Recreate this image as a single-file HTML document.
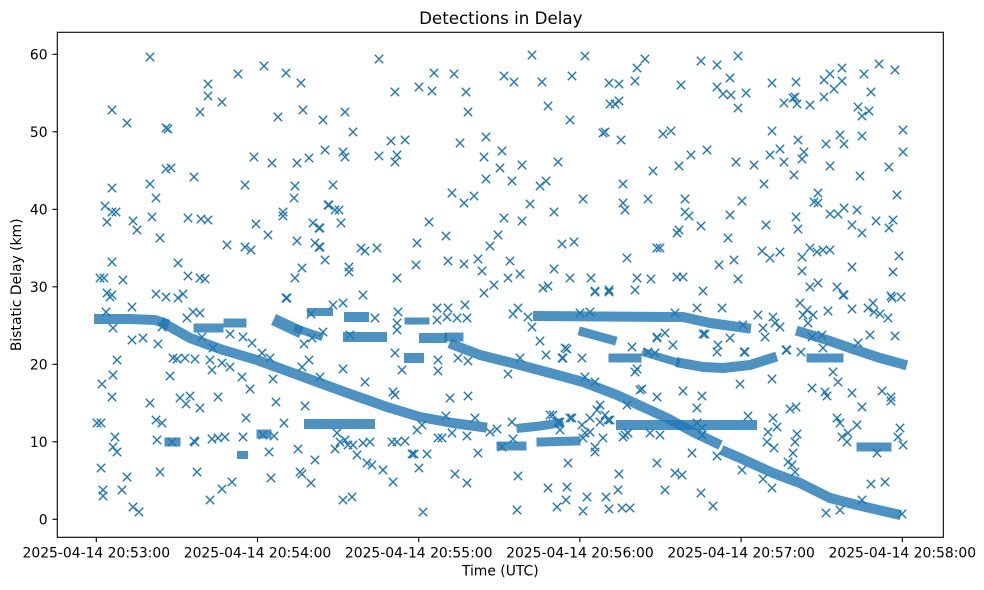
<!DOCTYPE html>
<html>
<head>
<meta charset="utf-8">
<style>
html,body{margin:0;padding:0;background:#fff;}
svg{display:block;}
text{font-family:"DejaVu Sans","Liberation Sans",sans-serif;fill:#000;}
</style>
</head>
<body>
<svg width="984" height="590" viewBox="0 0 984 590" xmlns="http://www.w3.org/2000/svg">
<rect x="0" y="0" width="984" height="590" fill="#fff"/>
<defs><clipPath id="ax"><rect x="57.3" y="32.3" width="886" height="505"/></clipPath></defs>

<g clip-path="url(#ax)">
<!-- dense tracks -->
<g fill="none" stroke="#1f77b4" stroke-opacity="0.8" stroke-linecap="square" stroke-linejoin="round">
<polyline stroke-width="10" points="99,319 130,319 155,320 164,323"/>
<polyline stroke-width="10" points="165,324 190,338 223,350 257,360 290,372 320,383 353,395 387,407 420,417 453,423 482,427"/>
<polyline stroke-width="10" points="309,424 370,424"/>
<polyline stroke-width="10" points="454,345 480,355 500,360 520,365 550,373 583,382 617,395 643,407 667,418 693,432 716,443"/>
<polyline stroke-width="10" points="726,452 740,458 773,473 800,483 820,493 830,498 857,505 896,514"/>
<polyline stroke-width="9" points="521,428 540,426 559,423"/>
<polyline stroke-width="10" points="621,425 752,425"/>
<polyline stroke-width="10" points="538,316 670,317 683,317 710,323 746,328"/>
<polyline stroke-width="9" points="583,332 612,340"/>
<polyline stroke-width="9" points="613,358 637,358"/>
<polyline stroke-width="8" points="646,353 676,362"/>
<polyline stroke-width="10" points="681,363 703,367 723,368 750,365 772,358"/>
<polyline stroke-width="10" points="801,332 827,340 850,348 880,358 902,364"/>
<polyline stroke-width="9" points="811,358 839,358"/>
<polyline stroke-width="9" points="861,447 887,447"/>
<polyline stroke-width="9" points="501,446 522,446"/>
<polyline stroke-width="9" points="541,442 576,441"/>
<polyline stroke-width="9" points="198,328 219,328"/>
<polyline stroke-width="9" points="228,323 242,323"/>
<polyline stroke-width="12" points="279,322 296,330"/>
<polyline stroke-width="8" points="298,329 319,336"/>
<polyline stroke-width="8" points="311,312 329,312"/>
<polyline stroke-width="10" points="349,317 364,317"/>
<polyline stroke-width="10" points="348,337 382,337"/>
<polyline stroke-width="7" points="408,321 426,321"/>
<polyline stroke-width="10" points="424,338 442,338"/>
<polyline stroke-width="9" points="449,337 459,337"/>
<polyline stroke-width="10" points="409,358 419,358"/>
<polyline stroke-width="9" points="169,442 176,442"/>
<polyline stroke-width="9" points="261,434 267,434"/>
<polyline stroke-width="8" points="241,455 244,455"/>
</g>

<path fill="none" stroke="#1f77b4" stroke-width="1.39" d="
M150 57m-4.2-4.2l8.4 8.4m0-8.4l-8.4 8.4M112 110m-4.2-4.2l8.4 8.4m0-8.4l-8.4 8.4M127 123m-4.2-4.2l8.4 8.4m0-8.4l-8.4 8.4M166 128m-4.2-4.2l8.4 8.4m0-8.4l-8.4 8.4M168 129m-4.2-4.2l8.4 8.4m0-8.4l-8.4 8.4M200 112m-4.2-4.2l8.4 8.4m0-8.4l-8.4 8.4M208 84m-4.2-4.2l8.4 8.4m0-8.4l-8.4 8.4M208 96m-4.2-4.2l8.4 8.4m0-8.4l-8.4 8.4M222 102m-4.2-4.2l8.4 8.4m0-8.4l-8.4 8.4M238 74m-4.2-4.2l8.4 8.4m0-8.4l-8.4 8.4M264 66m-4.2-4.2l8.4 8.4m0-8.4l-8.4 8.4M286 73m-4.2-4.2l8.4 8.4m0-8.4l-8.4 8.4M301 83m-4.2-4.2l8.4 8.4m0-8.4l-8.4 8.4M303 110m-4.2-4.2l8.4 8.4m0-8.4l-8.4 8.4M278 117m-4.2-4.2l8.4 8.4m0-8.4l-8.4 8.4M323 120m-4.2-4.2l8.4 8.4m0-8.4l-8.4 8.4M325 150m-4.2-4.2l8.4 8.4m0-8.4l-8.4 8.4M309 158m-4.2-4.2l8.4 8.4m0-8.4l-8.4 8.4M297 163m-4.2-4.2l8.4 8.4m0-8.4l-8.4 8.4M272 163m-4.2-4.2l8.4 8.4m0-8.4l-8.4 8.4M254 157m-4.2-4.2l8.4 8.4m0-8.4l-8.4 8.4M245 185m-4.2-4.2l8.4 8.4m0-8.4l-8.4 8.4M194 177m-4.2-4.2l8.4 8.4m0-8.4l-8.4 8.4M166 169m-4.2-4.2l8.4 8.4m0-8.4l-8.4 8.4M171 168m-4.2-4.2l8.4 8.4m0-8.4l-8.4 8.4M150 184m-4.2-4.2l8.4 8.4m0-8.4l-8.4 8.4M152 217m-4.2-4.2l8.4 8.4m0-8.4l-8.4 8.4M156 198m-4.2-4.2l8.4 8.4m0-8.4l-8.4 8.4M160 238m-4.2-4.2l8.4 8.4m0-8.4l-8.4 8.4M112 188m-4.2-4.2l8.4 8.4m0-8.4l-8.4 8.4M105 206m-4.2-4.2l8.4 8.4m0-8.4l-8.4 8.4M112 212m-4.2-4.2l8.4 8.4m0-8.4l-8.4 8.4M116 212m-4.2-4.2l8.4 8.4m0-8.4l-8.4 8.4M107 222m-4.2-4.2l8.4 8.4m0-8.4l-8.4 8.4M133 221m-4.2-4.2l8.4 8.4m0-8.4l-8.4 8.4M137 230m-4.2-4.2l8.4 8.4m0-8.4l-8.4 8.4M188 218m-4.2-4.2l8.4 8.4m0-8.4l-8.4 8.4M201 219m-4.2-4.2l8.4 8.4m0-8.4l-8.4 8.4M208 220m-4.2-4.2l8.4 8.4m0-8.4l-8.4 8.4M227 245m-4.2-4.2l8.4 8.4m0-8.4l-8.4 8.4M245 247m-4.2-4.2l8.4 8.4m0-8.4l-8.4 8.4M251 250m-4.2-4.2l8.4 8.4m0-8.4l-8.4 8.4M256 224m-4.2-4.2l8.4 8.4m0-8.4l-8.4 8.4M268 235m-4.2-4.2l8.4 8.4m0-8.4l-8.4 8.4M283 212m-4.2-4.2l8.4 8.4m0-8.4l-8.4 8.4M283 216m-4.2-4.2l8.4 8.4m0-8.4l-8.4 8.4M294 198m-4.2-4.2l8.4 8.4m0-8.4l-8.4 8.4M295 186m-4.2-4.2l8.4 8.4m0-8.4l-8.4 8.4M297 241m-4.2-4.2l8.4 8.4m0-8.4l-8.4 8.4M302 268m-4.2-4.2l8.4 8.4m0-8.4l-8.4 8.4M295 278m-4.2-4.2l8.4 8.4m0-8.4l-8.4 8.4M313 223m-4.2-4.2l8.4 8.4m0-8.4l-8.4 8.4M319 228m-4.2-4.2l8.4 8.4m0-8.4l-8.4 8.4M315 243m-4.2-4.2l8.4 8.4m0-8.4l-8.4 8.4M319 247m-4.2-4.2l8.4 8.4m0-8.4l-8.4 8.4M325 260m-4.2-4.2l8.4 8.4m0-8.4l-8.4 8.4M328 205m-4.2-4.2l8.4 8.4m0-8.4l-8.4 8.4M112 262m-4.2-4.2l8.4 8.4m0-8.4l-8.4 8.4M123 280m-4.2-4.2l8.4 8.4m0-8.4l-8.4 8.4M100 278m-4.2-4.2l8.4 8.4m0-8.4l-8.4 8.4M104 278m-4.2-4.2l8.4 8.4m0-8.4l-8.4 8.4M178 263m-4.2-4.2l8.4 8.4m0-8.4l-8.4 8.4M188 276m-4.2-4.2l8.4 8.4m0-8.4l-8.4 8.4M200 278m-4.2-4.2l8.4 8.4m0-8.4l-8.4 8.4M205 279m-4.2-4.2l8.4 8.4m0-8.4l-8.4 8.4M156 294m-4.2-4.2l8.4 8.4m0-8.4l-8.4 8.4M166 297m-4.2-4.2l8.4 8.4m0-8.4l-8.4 8.4M183 294m-4.2-4.2l8.4 8.4m0-8.4l-8.4 8.4M178 298m-4.2-4.2l8.4 8.4m0-8.4l-8.4 8.4M107 293m-4.2-4.2l8.4 8.4m0-8.4l-8.4 8.4M112 295m-4.2-4.2l8.4 8.4m0-8.4l-8.4 8.4M286 298m-4.2-4.2l8.4 8.4m0-8.4l-8.4 8.4
M106 312m-4.2-4.2l8.4 8.4m0-8.4l-8.4 8.4M132 307m-4.2-4.2l8.4 8.4m0-8.4l-8.4 8.4M113 328m-4.2-4.2l8.4 8.4m0-8.4l-8.4 8.4M132 340m-4.2-4.2l8.4 8.4m0-8.4l-8.4 8.4M143 338m-4.2-4.2l8.4 8.4m0-8.4l-8.4 8.4M158 344m-4.2-4.2l8.4 8.4m0-8.4l-8.4 8.4M162 327m-4.2-4.2l8.4 8.4m0-8.4l-8.4 8.4M187 318m-4.2-4.2l8.4 8.4m0-8.4l-8.4 8.4M193 312m-4.2-4.2l8.4 8.4m0-8.4l-8.4 8.4M200 313m-4.2-4.2l8.4 8.4m0-8.4l-8.4 8.4M202 337m-4.2-4.2l8.4 8.4m0-8.4l-8.4 8.4M213 348m-4.2-4.2l8.4 8.4m0-8.4l-8.4 8.4M222 363m-4.2-4.2l8.4 8.4m0-8.4l-8.4 8.4M230 367m-4.2-4.2l8.4 8.4m0-8.4l-8.4 8.4M242 377m-4.2-4.2l8.4 8.4m0-8.4l-8.4 8.4M250 389m-4.2-4.2l8.4 8.4m0-8.4l-8.4 8.4M246 418m-4.2-4.2l8.4 8.4m0-8.4l-8.4 8.4M243 437m-4.2-4.2l8.4 8.4m0-8.4l-8.4 8.4M218 397m-4.2-4.2l8.4 8.4m0-8.4l-8.4 8.4M212 370m-4.2-4.2l8.4 8.4m0-8.4l-8.4 8.4M210 360m-4.2-4.2l8.4 8.4m0-8.4l-8.4 8.4M170 376m-4.2-4.2l8.4 8.4m0-8.4l-8.4 8.4M180 398m-4.2-4.2l8.4 8.4m0-8.4l-8.4 8.4M186 404m-4.2-4.2l8.4 8.4m0-8.4l-8.4 8.4M190 396m-4.2-4.2l8.4 8.4m0-8.4l-8.4 8.4M200 408m-4.2-4.2l8.4 8.4m0-8.4l-8.4 8.4M195 442m-4.2-4.2l8.4 8.4m0-8.4l-8.4 8.4M197 472m-4.2-4.2l8.4 8.4m0-8.4l-8.4 8.4M210 500m-4.2-4.2l8.4 8.4m0-8.4l-8.4 8.4M222 489m-4.2-4.2l8.4 8.4m0-8.4l-8.4 8.4M232 482m-4.2-4.2l8.4 8.4m0-8.4l-8.4 8.4M212 439m-4.2-4.2l8.4 8.4m0-8.4l-8.4 8.4M218 438m-4.2-4.2l8.4 8.4m0-8.4l-8.4 8.4M225 437m-4.2-4.2l8.4 8.4m0-8.4l-8.4 8.4M160 472m-4.2-4.2l8.4 8.4m0-8.4l-8.4 8.4M156 420m-4.2-4.2l8.4 8.4m0-8.4l-8.4 8.4M162 423m-4.2-4.2l8.4 8.4m0-8.4l-8.4 8.4M157 440m-4.2-4.2l8.4 8.4m0-8.4l-8.4 8.4M150 403m-4.2-4.2l8.4 8.4m0-8.4l-8.4 8.4M117 360m-4.2-4.2l8.4 8.4m0-8.4l-8.4 8.4M113 375m-4.2-4.2l8.4 8.4m0-8.4l-8.4 8.4M102 384m-4.2-4.2l8.4 8.4m0-8.4l-8.4 8.4M112 397m-4.2-4.2l8.4 8.4m0-8.4l-8.4 8.4M115 437m-4.2-4.2l8.4 8.4m0-8.4l-8.4 8.4M113 447m-4.2-4.2l8.4 8.4m0-8.4l-8.4 8.4M117 452m-4.2-4.2l8.4 8.4m0-8.4l-8.4 8.4M101 468m-4.2-4.2l8.4 8.4m0-8.4l-8.4 8.4M103 490m-4.2-4.2l8.4 8.4m0-8.4l-8.4 8.4M103 496m-4.2-4.2l8.4 8.4m0-8.4l-8.4 8.4M122 490m-4.2-4.2l8.4 8.4m0-8.4l-8.4 8.4M127 477m-4.2-4.2l8.4 8.4m0-8.4l-8.4 8.4M133 507m-4.2-4.2l8.4 8.4m0-8.4l-8.4 8.4M139 512m-4.2-4.2l8.4 8.4m0-8.4l-8.4 8.4M97 423m-4.2-4.2l8.4 8.4m0-8.4l-8.4 8.4M101 423m-4.2-4.2l8.4 8.4m0-8.4l-8.4 8.4M273 379m-4.2-4.2l8.4 8.4m0-8.4l-8.4 8.4M276 402m-4.2-4.2l8.4 8.4m0-8.4l-8.4 8.4M284 423m-4.2-4.2l8.4 8.4m0-8.4l-8.4 8.4M269 452m-4.2-4.2l8.4 8.4m0-8.4l-8.4 8.4M271 478m-4.2-4.2l8.4 8.4m0-8.4l-8.4 8.4M298 449m-4.2-4.2l8.4 8.4m0-8.4l-8.4 8.4M300 472m-4.2-4.2l8.4 8.4m0-8.4l-8.4 8.4M302 474m-4.2-4.2l8.4 8.4m0-8.4l-8.4 8.4M311 483m-4.2-4.2l8.4 8.4m0-8.4l-8.4 8.4M315 460m-4.2-4.2l8.4 8.4m0-8.4l-8.4 8.4M305 406m-4.2-4.2l8.4 8.4m0-8.4l-8.4 8.4M302 367m-4.2-4.2l8.4 8.4m0-8.4l-8.4 8.4M309 360m-4.2-4.2l8.4 8.4m0-8.4l-8.4 8.4M304 344m-4.2-4.2l8.4 8.4m0-8.4l-8.4 8.4M312 338m-4.2-4.2l8.4 8.4m0-8.4l-8.4 8.4M323 332m-4.2-4.2l8.4 8.4m0-8.4l-8.4 8.4M311 314m-4.2-4.2l8.4 8.4m0-8.4l-8.4 8.4M230 334m-4.2-4.2l8.4 8.4m0-8.4l-8.4 8.4M243 337m-4.2-4.2l8.4 8.4m0-8.4l-8.4 8.4M252 343m-4.2-4.2l8.4 8.4m0-8.4l-8.4 8.4M262 353m-4.2-4.2l8.4 8.4m0-8.4l-8.4 8.4M270 358m-4.2-4.2l8.4 8.4m0-8.4l-8.4 8.4M263 435m-4.2-4.2l8.4 8.4m0-8.4l-8.4 8.4M274 436m-4.2-4.2l8.4 8.4m0-8.4l-8.4 8.4M194 441m-4.2-4.2l8.4 8.4m0-8.4l-8.4 8.4M172 442m-4.2-4.2l8.4 8.4m0-8.4l-8.4 8.4M320 377m-4.2-4.2l8.4 8.4m0-8.4l-8.4 8.4M185 358m-4.2-4.2l8.4 8.4m0-8.4l-8.4 8.4M173 358m-4.2-4.2l8.4 8.4m0-8.4l-8.4 8.4M177 359m-4.2-4.2l8.4 8.4m0-8.4l-8.4 8.4M195 359m-4.2-4.2l8.4 8.4m0-8.4l-8.4 8.4M110 297m-4.2-4.2l8.4 8.4m0-8.4l-8.4 8.4M287 298m-4.2-4.2l8.4 8.4m0-8.4l-8.4 8.4
M363 295m-4.2-4.2l8.4 8.4m0-8.4l-8.4 8.4M484 293m-4.2-4.2l8.4 8.4m0-8.4l-8.4 8.4M333 305m-4.2-4.2l8.4 8.4m0-8.4l-8.4 8.4M343 303m-4.2-4.2l8.4 8.4m0-8.4l-8.4 8.4M323 332m-4.2-4.2l8.4 8.4m0-8.4l-8.4 8.4M350 335m-4.2-4.2l8.4 8.4m0-8.4l-8.4 8.4M375 318m-4.2-4.2l8.4 8.4m0-8.4l-8.4 8.4M398 312m-4.2-4.2l8.4 8.4m0-8.4l-8.4 8.4M397 323m-4.2-4.2l8.4 8.4m0-8.4l-8.4 8.4M397 330m-4.2-4.2l8.4 8.4m0-8.4l-8.4 8.4M437 308m-4.2-4.2l8.4 8.4m0-8.4l-8.4 8.4M448 308m-4.2-4.2l8.4 8.4m0-8.4l-8.4 8.4M465 305m-4.2-4.2l8.4 8.4m0-8.4l-8.4 8.4M437 320m-4.2-4.2l8.4 8.4m0-8.4l-8.4 8.4M447 317m-4.2-4.2l8.4 8.4m0-8.4l-8.4 8.4M457 318m-4.2-4.2l8.4 8.4m0-8.4l-8.4 8.4M467 318m-4.2-4.2l8.4 8.4m0-8.4l-8.4 8.4M395 353m-4.2-4.2l8.4 8.4m0-8.4l-8.4 8.4M402 370m-4.2-4.2l8.4 8.4m0-8.4l-8.4 8.4M438 360m-4.2-4.2l8.4 8.4m0-8.4l-8.4 8.4M438 371m-4.2-4.2l8.4 8.4m0-8.4l-8.4 8.4M458 358m-4.2-4.2l8.4 8.4m0-8.4l-8.4 8.4M468 361m-4.2-4.2l8.4 8.4m0-8.4l-8.4 8.4M343 369m-4.2-4.2l8.4 8.4m0-8.4l-8.4 8.4M365 382m-4.2-4.2l8.4 8.4m0-8.4l-8.4 8.4M393 392m-4.2-4.2l8.4 8.4m0-8.4l-8.4 8.4M395 395m-4.2-4.2l8.4 8.4m0-8.4l-8.4 8.4M450 398m-4.2-4.2l8.4 8.4m0-8.4l-8.4 8.4M468 396m-4.2-4.2l8.4 8.4m0-8.4l-8.4 8.4M446 416m-4.2-4.2l8.4 8.4m0-8.4l-8.4 8.4M475 418m-4.2-4.2l8.4 8.4m0-8.4l-8.4 8.4M417 430m-4.2-4.2l8.4 8.4m0-8.4l-8.4 8.4M422 425m-4.2-4.2l8.4 8.4m0-8.4l-8.4 8.4M452 433m-4.2-4.2l8.4 8.4m0-8.4l-8.4 8.4M467 436m-4.2-4.2l8.4 8.4m0-8.4l-8.4 8.4M438 438m-4.2-4.2l8.4 8.4m0-8.4l-8.4 8.4M442 438m-4.2-4.2l8.4 8.4m0-8.4l-8.4 8.4M392 442m-4.2-4.2l8.4 8.4m0-8.4l-8.4 8.4M397 442m-4.2-4.2l8.4 8.4m0-8.4l-8.4 8.4M405 441m-4.2-4.2l8.4 8.4m0-8.4l-8.4 8.4M412 454m-4.2-4.2l8.4 8.4m0-8.4l-8.4 8.4M414 454m-4.2-4.2l8.4 8.4m0-8.4l-8.4 8.4M427 454m-4.2-4.2l8.4 8.4m0-8.4l-8.4 8.4M419 468m-4.2-4.2l8.4 8.4m0-8.4l-8.4 8.4M478 453m-4.2-4.2l8.4 8.4m0-8.4l-8.4 8.4M337 433m-4.2-4.2l8.4 8.4m0-8.4l-8.4 8.4M340 442m-4.2-4.2l8.4 8.4m0-8.4l-8.4 8.4M345 440m-4.2-4.2l8.4 8.4m0-8.4l-8.4 8.4M348 445m-4.2-4.2l8.4 8.4m0-8.4l-8.4 8.4M353 445m-4.2-4.2l8.4 8.4m0-8.4l-8.4 8.4M363 443m-4.2-4.2l8.4 8.4m0-8.4l-8.4 8.4M370 442m-4.2-4.2l8.4 8.4m0-8.4l-8.4 8.4M335 449m-4.2-4.2l8.4 8.4m0-8.4l-8.4 8.4M357 455m-4.2-4.2l8.4 8.4m0-8.4l-8.4 8.4M367 463m-4.2-4.2l8.4 8.4m0-8.4l-8.4 8.4M372 465m-4.2-4.2l8.4 8.4m0-8.4l-8.4 8.4M383 470m-4.2-4.2l8.4 8.4m0-8.4l-8.4 8.4M393 482m-4.2-4.2l8.4 8.4m0-8.4l-8.4 8.4M343 500m-4.2-4.2l8.4 8.4m0-8.4l-8.4 8.4M352 497m-4.2-4.2l8.4 8.4m0-8.4l-8.4 8.4M423 512m-4.2-4.2l8.4 8.4m0-8.4l-8.4 8.4M455 474m-4.2-4.2l8.4 8.4m0-8.4l-8.4 8.4M467 483m-4.2-4.2l8.4 8.4m0-8.4l-8.4 8.4M490 432m-4.2-4.2l8.4 8.4m0-8.4l-8.4 8.4M497 429m-4.2-4.2l8.4 8.4m0-8.4l-8.4 8.4M512 422m-4.2-4.2l8.4 8.4m0-8.4l-8.4 8.4M513 439m-4.2-4.2l8.4 8.4m0-8.4l-8.4 8.4M502 447m-4.2-4.2l8.4 8.4m0-8.4l-8.4 8.4M518 476m-4.2-4.2l8.4 8.4m0-8.4l-8.4 8.4M517 510m-4.2-4.2l8.4 8.4m0-8.4l-8.4 8.4M548 488m-4.2-4.2l8.4 8.4m0-8.4l-8.4 8.4M557 507m-4.2-4.2l8.4 8.4m0-8.4l-8.4 8.4M567 487m-4.2-4.2l8.4 8.4m0-8.4l-8.4 8.4M566 500m-4.2-4.2l8.4 8.4m0-8.4l-8.4 8.4M568 463m-4.2-4.2l8.4 8.4m0-8.4l-8.4 8.4M583 511m-4.2-4.2l8.4 8.4m0-8.4l-8.4 8.4M587 497m-4.2-4.2l8.4 8.4m0-8.4l-8.4 8.4M606 497m-4.2-4.2l8.4 8.4m0-8.4l-8.4 8.4M609 509m-4.2-4.2l8.4 8.4m0-8.4l-8.4 8.4M618 490m-4.2-4.2l8.4 8.4m0-8.4l-8.4 8.4M619 474m-4.2-4.2l8.4 8.4m0-8.4l-8.4 8.4M622 508m-4.2-4.2l8.4 8.4m0-8.4l-8.4 8.4M630 508m-4.2-4.2l8.4 8.4m0-8.4l-8.4 8.4M657 463m-4.2-4.2l8.4 8.4m0-8.4l-8.4 8.4M513 314m-4.2-4.2l8.4 8.4m0-8.4l-8.4 8.4M518 308m-4.2-4.2l8.4 8.4m0-8.4l-8.4 8.4M528 317m-4.2-4.2l8.4 8.4m0-8.4l-8.4 8.4M532 327m-4.2-4.2l8.4 8.4m0-8.4l-8.4 8.4M540 341m-4.2-4.2l8.4 8.4m0-8.4l-8.4 8.4M546 355m-4.2-4.2l8.4 8.4m0-8.4l-8.4 8.4M563 358m-4.2-4.2l8.4 8.4m0-8.4l-8.4 8.4M567 349m-4.2-4.2l8.4 8.4m0-8.4l-8.4 8.4M582 358m-4.2-4.2l8.4 8.4m0-8.4l-8.4 8.4M508 374m-4.2-4.2l8.4 8.4m0-8.4l-8.4 8.4M520 358m-4.2-4.2l8.4 8.4m0-8.4l-8.4 8.4M550 415m-4.2-4.2l8.4 8.4m0-8.4l-8.4 8.4M558 422m-4.2-4.2l8.4 8.4m0-8.4l-8.4 8.4M560 430m-4.2-4.2l8.4 8.4m0-8.4l-8.4 8.4M572 418m-4.2-4.2l8.4 8.4m0-8.4l-8.4 8.4M585 377m-4.2-4.2l8.4 8.4m0-8.4l-8.4 8.4M595 382m-4.2-4.2l8.4 8.4m0-8.4l-8.4 8.4M600 405m-4.2-4.2l8.4 8.4m0-8.4l-8.4 8.4M603 438m-4.2-4.2l8.4 8.4m0-8.4l-8.4 8.4M595 447m-4.2-4.2l8.4 8.4m0-8.4l-8.4 8.4M595 452m-4.2-4.2l8.4 8.4m0-8.4l-8.4 8.4M585 433m-4.2-4.2l8.4 8.4m0-8.4l-8.4 8.4M610 420m-4.2-4.2l8.4 8.4m0-8.4l-8.4 8.4M623 437m-4.2-4.2l8.4 8.4m0-8.4l-8.4 8.4M628 433m-4.2-4.2l8.4 8.4m0-8.4l-8.4 8.4M650 433m-4.2-4.2l8.4 8.4m0-8.4l-8.4 8.4M632 347m-4.2-4.2l8.4 8.4m0-8.4l-8.4 8.4M635 372m-4.2-4.2l8.4 8.4m0-8.4l-8.4 8.4M637 369m-4.2-4.2l8.4 8.4m0-8.4l-8.4 8.4M642 389m-4.2-4.2l8.4 8.4m0-8.4l-8.4 8.4M627 405m-4.2-4.2l8.4 8.4m0-8.4l-8.4 8.4M648 352m-4.2-4.2l8.4 8.4m0-8.4l-8.4 8.4M655 353m-4.2-4.2l8.4 8.4m0-8.4l-8.4 8.4M657 338m-4.2-4.2l8.4 8.4m0-8.4l-8.4 8.4M657 397m-4.2-4.2l8.4 8.4m0-8.4l-8.4 8.4M635 290m-4.2-4.2l8.4 8.4m0-8.4l-8.4 8.4M595 292m-4.2-4.2l8.4 8.4m0-8.4l-8.4 8.4M609 292m-4.2-4.2l8.4 8.4m0-8.4l-8.4 8.4
M565 348m-4.2-4.2l8.4 8.4m0-8.4l-8.4 8.4M562 358m-4.2-4.2l8.4 8.4m0-8.4l-8.4 8.4M665 333m-4.2-4.2l8.4 8.4m0-8.4l-8.4 8.4M640 390m-4.2-4.2l8.4 8.4m0-8.4l-8.4 8.4M583 438m-4.2-4.2l8.4 8.4m0-8.4l-8.4 8.4M590 432m-4.2-4.2l8.4 8.4m0-8.4l-8.4 8.4M582 425m-4.2-4.2l8.4 8.4m0-8.4l-8.4 8.4M560 422m-4.2-4.2l8.4 8.4m0-8.4l-8.4 8.4M553 415m-4.2-4.2l8.4 8.4m0-8.4l-8.4 8.4M570 418m-4.2-4.2l8.4 8.4m0-8.4l-8.4 8.4M608 420m-4.2-4.2l8.4 8.4m0-8.4l-8.4 8.4M625 435m-4.2-4.2l8.4 8.4m0-8.4l-8.4 8.4M660 435m-4.2-4.2l8.4 8.4m0-8.4l-8.4 8.4M597 410m-4.2-4.2l8.4 8.4m0-8.4l-8.4 8.4M605 415m-4.2-4.2l8.4 8.4m0-8.4l-8.4 8.4M590 418m-4.2-4.2l8.4 8.4m0-8.4l-8.4 8.4M600 422m-4.2-4.2l8.4 8.4m0-8.4l-8.4 8.4M590 312m-4.2-4.2l8.4 8.4m0-8.4l-8.4 8.4M580 313m-4.2-4.2l8.4 8.4m0-8.4l-8.4 8.4
M379 59m-4.2-4.2l8.4 8.4m0-8.4l-8.4 8.4M532 55m-4.2-4.2l8.4 8.4m0-8.4l-8.4 8.4M585 56m-4.2-4.2l8.4 8.4m0-8.4l-8.4 8.4M645 59m-4.2-4.2l8.4 8.4m0-8.4l-8.4 8.4M637 68m-4.2-4.2l8.4 8.4m0-8.4l-8.4 8.4M635 81m-4.2-4.2l8.4 8.4m0-8.4l-8.4 8.4M609 83m-4.2-4.2l8.4 8.4m0-8.4l-8.4 8.4M619 84m-4.2-4.2l8.4 8.4m0-8.4l-8.4 8.4M610 104m-4.2-4.2l8.4 8.4m0-8.4l-8.4 8.4M615 104m-4.2-4.2l8.4 8.4m0-8.4l-8.4 8.4M619 101m-4.2-4.2l8.4 8.4m0-8.4l-8.4 8.4M572 76m-4.2-4.2l8.4 8.4m0-8.4l-8.4 8.4M542 82m-4.2-4.2l8.4 8.4m0-8.4l-8.4 8.4M504 76m-4.2-4.2l8.4 8.4m0-8.4l-8.4 8.4M514 82m-4.2-4.2l8.4 8.4m0-8.4l-8.4 8.4M548 106m-4.2-4.2l8.4 8.4m0-8.4l-8.4 8.4M570 120m-4.2-4.2l8.4 8.4m0-8.4l-8.4 8.4M603 133m-4.2-4.2l8.4 8.4m0-8.4l-8.4 8.4M605 132m-4.2-4.2l8.4 8.4m0-8.4l-8.4 8.4M621 140m-4.2-4.2l8.4 8.4m0-8.4l-8.4 8.4M653 171m-4.2-4.2l8.4 8.4m0-8.4l-8.4 8.4M623 184m-4.2-4.2l8.4 8.4m0-8.4l-8.4 8.4M623 203m-4.2-4.2l8.4 8.4m0-8.4l-8.4 8.4M625 210m-4.2-4.2l8.4 8.4m0-8.4l-8.4 8.4M648 199m-4.2-4.2l8.4 8.4m0-8.4l-8.4 8.4M657 248m-4.2-4.2l8.4 8.4m0-8.4l-8.4 8.4M627 258m-4.2-4.2l8.4 8.4m0-8.4l-8.4 8.4M637 278m-4.2-4.2l8.4 8.4m0-8.4l-8.4 8.4M651 279m-4.2-4.2l8.4 8.4m0-8.4l-8.4 8.4M609 290m-4.2-4.2l8.4 8.4m0-8.4l-8.4 8.4M595 291m-4.2-4.2l8.4 8.4m0-8.4l-8.4 8.4M591 278m-4.2-4.2l8.4 8.4m0-8.4l-8.4 8.4M570 278m-4.2-4.2l8.4 8.4m0-8.4l-8.4 8.4M554 269m-4.2-4.2l8.4 8.4m0-8.4l-8.4 8.4M548 286m-4.2-4.2l8.4 8.4m0-8.4l-8.4 8.4M543 288m-4.2-4.2l8.4 8.4m0-8.4l-8.4 8.4M562 244m-4.2-4.2l8.4 8.4m0-8.4l-8.4 8.4M574 242m-4.2-4.2l8.4 8.4m0-8.4l-8.4 8.4M554 212m-4.2-4.2l8.4 8.4m0-8.4l-8.4 8.4M583 199m-4.2-4.2l8.4 8.4m0-8.4l-8.4 8.4M558 162m-4.2-4.2l8.4 8.4m0-8.4l-8.4 8.4M546 181m-4.2-4.2l8.4 8.4m0-8.4l-8.4 8.4M540 186m-4.2-4.2l8.4 8.4m0-8.4l-8.4 8.4M530 204m-4.2-4.2l8.4 8.4m0-8.4l-8.4 8.4M522 221m-4.2-4.2l8.4 8.4m0-8.4l-8.4 8.4M504 218m-4.2-4.2l8.4 8.4m0-8.4l-8.4 8.4M498 235m-4.2-4.2l8.4 8.4m0-8.4l-8.4 8.4M490 246m-4.2-4.2l8.4 8.4m0-8.4l-8.4 8.4M510 261m-4.2-4.2l8.4 8.4m0-8.4l-8.4 8.4M520 274m-4.2-4.2l8.4 8.4m0-8.4l-8.4 8.4M508 278m-4.2-4.2l8.4 8.4m0-8.4l-8.4 8.4M494 285m-4.2-4.2l8.4 8.4m0-8.4l-8.4 8.4M482 271m-4.2-4.2l8.4 8.4m0-8.4l-8.4 8.4M478 259m-4.2-4.2l8.4 8.4m0-8.4l-8.4 8.4M464 264m-4.2-4.2l8.4 8.4m0-8.4l-8.4 8.4M448 261m-4.2-4.2l8.4 8.4m0-8.4l-8.4 8.4M446 236m-4.2-4.2l8.4 8.4m0-8.4l-8.4 8.4M429 222m-4.2-4.2l8.4 8.4m0-8.4l-8.4 8.4M417 243m-4.2-4.2l8.4 8.4m0-8.4l-8.4 8.4M416 265m-4.2-4.2l8.4 8.4m0-8.4l-8.4 8.4M397 278m-4.2-4.2l8.4 8.4m0-8.4l-8.4 8.4M377 248m-4.2-4.2l8.4 8.4m0-8.4l-8.4 8.4M365 251m-4.2-4.2l8.4 8.4m0-8.4l-8.4 8.4M361 248m-4.2-4.2l8.4 8.4m0-8.4l-8.4 8.4M349 267m-4.2-4.2l8.4 8.4m0-8.4l-8.4 8.4M349 272m-4.2-4.2l8.4 8.4m0-8.4l-8.4 8.4M320 247m-4.2-4.2l8.4 8.4m0-8.4l-8.4 8.4M341 223m-4.2-4.2l8.4 8.4m0-8.4l-8.4 8.4M335 210m-4.2-4.2l8.4 8.4m0-8.4l-8.4 8.4M339 210m-4.2-4.2l8.4 8.4m0-8.4l-8.4 8.4M329 205m-4.2-4.2l8.4 8.4m0-8.4l-8.4 8.4M333 185m-4.2-4.2l8.4 8.4m0-8.4l-8.4 8.4M320 228m-4.2-4.2l8.4 8.4m0-8.4l-8.4 8.4M343 152m-4.2-4.2l8.4 8.4m0-8.4l-8.4 8.4M345 157m-4.2-4.2l8.4 8.4m0-8.4l-8.4 8.4M379 156m-4.2-4.2l8.4 8.4m0-8.4l-8.4 8.4M397 155m-4.2-4.2l8.4 8.4m0-8.4l-8.4 8.4M395 162m-4.2-4.2l8.4 8.4m0-8.4l-8.4 8.4M391 141m-4.2-4.2l8.4 8.4m0-8.4l-8.4 8.4M405 140m-4.2-4.2l8.4 8.4m0-8.4l-8.4 8.4M353 132m-4.2-4.2l8.4 8.4m0-8.4l-8.4 8.4M345 112m-4.2-4.2l8.4 8.4m0-8.4l-8.4 8.4M395 92m-4.2-4.2l8.4 8.4m0-8.4l-8.4 8.4M419 87m-4.2-4.2l8.4 8.4m0-8.4l-8.4 8.4M432 91m-4.2-4.2l8.4 8.4m0-8.4l-8.4 8.4M434 73m-4.2-4.2l8.4 8.4m0-8.4l-8.4 8.4M454 74m-4.2-4.2l8.4 8.4m0-8.4l-8.4 8.4M466 92m-4.2-4.2l8.4 8.4m0-8.4l-8.4 8.4M468 112m-4.2-4.2l8.4 8.4m0-8.4l-8.4 8.4M460 143m-4.2-4.2l8.4 8.4m0-8.4l-8.4 8.4M486 137m-4.2-4.2l8.4 8.4m0-8.4l-8.4 8.4M484 157m-4.2-4.2l8.4 8.4m0-8.4l-8.4 8.4M502 151m-4.2-4.2l8.4 8.4m0-8.4l-8.4 8.4M500 168m-4.2-4.2l8.4 8.4m0-8.4l-8.4 8.4M522 165m-4.2-4.2l8.4 8.4m0-8.4l-8.4 8.4M512 181m-4.2-4.2l8.4 8.4m0-8.4l-8.4 8.4M486 179m-4.2-4.2l8.4 8.4m0-8.4l-8.4 8.4M452 193m-4.2-4.2l8.4 8.4m0-8.4l-8.4 8.4M464 203m-4.2-4.2l8.4 8.4m0-8.4l-8.4 8.4M474 196m-4.2-4.2l8.4 8.4m0-8.4l-8.4 8.4
M701 61m-4.2-4.2l8.4 8.4m0-8.4l-8.4 8.4M717 65m-4.2-4.2l8.4 8.4m0-8.4l-8.4 8.4M738 56m-4.2-4.2l8.4 8.4m0-8.4l-8.4 8.4M681 85m-4.2-4.2l8.4 8.4m0-8.4l-8.4 8.4M717 87m-4.2-4.2l8.4 8.4m0-8.4l-8.4 8.4M723 94m-4.2-4.2l8.4 8.4m0-8.4l-8.4 8.4M731 95m-4.2-4.2l8.4 8.4m0-8.4l-8.4 8.4M730 78m-4.2-4.2l8.4 8.4m0-8.4l-8.4 8.4M746 93m-4.2-4.2l8.4 8.4m0-8.4l-8.4 8.4M738 108m-4.2-4.2l8.4 8.4m0-8.4l-8.4 8.4M772 83m-4.2-4.2l8.4 8.4m0-8.4l-8.4 8.4M796 82m-4.2-4.2l8.4 8.4m0-8.4l-8.4 8.4M784 103m-4.2-4.2l8.4 8.4m0-8.4l-8.4 8.4M793 98m-4.2-4.2l8.4 8.4m0-8.4l-8.4 8.4M795 97m-4.2-4.2l8.4 8.4m0-8.4l-8.4 8.4M797 104m-4.2-4.2l8.4 8.4m0-8.4l-8.4 8.4M810 105m-4.2-4.2l8.4 8.4m0-8.4l-8.4 8.4M824 80m-4.2-4.2l8.4 8.4m0-8.4l-8.4 8.4M830 74m-4.2-4.2l8.4 8.4m0-8.4l-8.4 8.4M842 68m-4.2-4.2l8.4 8.4m0-8.4l-8.4 8.4M842 81m-4.2-4.2l8.4 8.4m0-8.4l-8.4 8.4M834 89m-4.2-4.2l8.4 8.4m0-8.4l-8.4 8.4M824 97m-4.2-4.2l8.4 8.4m0-8.4l-8.4 8.4M864 74m-4.2-4.2l8.4 8.4m0-8.4l-8.4 8.4M879 64m-4.2-4.2l8.4 8.4m0-8.4l-8.4 8.4M895 70m-4.2-4.2l8.4 8.4m0-8.4l-8.4 8.4M871 92m-4.2-4.2l8.4 8.4m0-8.4l-8.4 8.4M858 107m-4.2-4.2l8.4 8.4m0-8.4l-8.4 8.4M862 116m-4.2-4.2l8.4 8.4m0-8.4l-8.4 8.4M869 111m-4.2-4.2l8.4 8.4m0-8.4l-8.4 8.4M663 134m-4.2-4.2l8.4 8.4m0-8.4l-8.4 8.4M671 131m-4.2-4.2l8.4 8.4m0-8.4l-8.4 8.4M772 131m-4.2-4.2l8.4 8.4m0-8.4l-8.4 8.4M798 140m-4.2-4.2l8.4 8.4m0-8.4l-8.4 8.4M840 135m-4.2-4.2l8.4 8.4m0-8.4l-8.4 8.4M862 136m-4.2-4.2l8.4 8.4m0-8.4l-8.4 8.4M903 130m-4.2-4.2l8.4 8.4m0-8.4l-8.4 8.4M903 152m-4.2-4.2l8.4 8.4m0-8.4l-8.4 8.4M826 144m-4.2-4.2l8.4 8.4m0-8.4l-8.4 8.4M844 144m-4.2-4.2l8.4 8.4m0-8.4l-8.4 8.4M780 149m-4.2-4.2l8.4 8.4m0-8.4l-8.4 8.4M804 152m-4.2-4.2l8.4 8.4m0-8.4l-8.4 8.4M802 159m-4.2-4.2l8.4 8.4m0-8.4l-8.4 8.4M770 155m-4.2-4.2l8.4 8.4m0-8.4l-8.4 8.4M784 162m-4.2-4.2l8.4 8.4m0-8.4l-8.4 8.4M794 175m-4.2-4.2l8.4 8.4m0-8.4l-8.4 8.4M830 166m-4.2-4.2l8.4 8.4m0-8.4l-8.4 8.4M889 167m-4.2-4.2l8.4 8.4m0-8.4l-8.4 8.4M860 176m-4.2-4.2l8.4 8.4m0-8.4l-8.4 8.4M691 155m-4.2-4.2l8.4 8.4m0-8.4l-8.4 8.4M707 150m-4.2-4.2l8.4 8.4m0-8.4l-8.4 8.4M679 166m-4.2-4.2l8.4 8.4m0-8.4l-8.4 8.4M736 162m-4.2-4.2l8.4 8.4m0-8.4l-8.4 8.4M754 165m-4.2-4.2l8.4 8.4m0-8.4l-8.4 8.4M764 184m-4.2-4.2l8.4 8.4m0-8.4l-8.4 8.4M897 195m-4.2-4.2l8.4 8.4m0-8.4l-8.4 8.4M818 193m-4.2-4.2l8.4 8.4m0-8.4l-8.4 8.4M814 202m-4.2-4.2l8.4 8.4m0-8.4l-8.4 8.4M818 203m-4.2-4.2l8.4 8.4m0-8.4l-8.4 8.4M685 199m-4.2-4.2l8.4 8.4m0-8.4l-8.4 8.4M685 212m-4.2-4.2l8.4 8.4m0-8.4l-8.4 8.4M689 216m-4.2-4.2l8.4 8.4m0-8.4l-8.4 8.4M742 201m-4.2-4.2l8.4 8.4m0-8.4l-8.4 8.4M730 215m-4.2-4.2l8.4 8.4m0-8.4l-8.4 8.4M701 226m-4.2-4.2l8.4 8.4m0-8.4l-8.4 8.4M677 233m-4.2-4.2l8.4 8.4m0-8.4l-8.4 8.4M679 230m-4.2-4.2l8.4 8.4m0-8.4l-8.4 8.4M728 238m-4.2-4.2l8.4 8.4m0-8.4l-8.4 8.4M766 225m-4.2-4.2l8.4 8.4m0-8.4l-8.4 8.4M796 217m-4.2-4.2l8.4 8.4m0-8.4l-8.4 8.4M798 229m-4.2-4.2l8.4 8.4m0-8.4l-8.4 8.4M830 214m-4.2-4.2l8.4 8.4m0-8.4l-8.4 8.4M838 214m-4.2-4.2l8.4 8.4m0-8.4l-8.4 8.4M844 208m-4.2-4.2l8.4 8.4m0-8.4l-8.4 8.4M857 210m-4.2-4.2l8.4 8.4m0-8.4l-8.4 8.4M852 225m-4.2-4.2l8.4 8.4m0-8.4l-8.4 8.4M862 233m-4.2-4.2l8.4 8.4m0-8.4l-8.4 8.4M876 221m-4.2-4.2l8.4 8.4m0-8.4l-8.4 8.4M893 220m-4.2-4.2l8.4 8.4m0-8.4l-8.4 8.4M889 228m-4.2-4.2l8.4 8.4m0-8.4l-8.4 8.4M660 248m-4.2-4.2l8.4 8.4m0-8.4l-8.4 8.4M719 265m-4.2-4.2l8.4 8.4m0-8.4l-8.4 8.4M734 260m-4.2-4.2l8.4 8.4m0-8.4l-8.4 8.4M738 279m-4.2-4.2l8.4 8.4m0-8.4l-8.4 8.4M677 277m-4.2-4.2l8.4 8.4m0-8.4l-8.4 8.4M683 277m-4.2-4.2l8.4 8.4m0-8.4l-8.4 8.4M703 291m-4.2-4.2l8.4 8.4m0-8.4l-8.4 8.4M762 251m-4.2-4.2l8.4 8.4m0-8.4l-8.4 8.4M770 258m-4.2-4.2l8.4 8.4m0-8.4l-8.4 8.4M780 252m-4.2-4.2l8.4 8.4m0-8.4l-8.4 8.4M802 257m-4.2-4.2l8.4 8.4m0-8.4l-8.4 8.4M802 271m-4.2-4.2l8.4 8.4m0-8.4l-8.4 8.4M810 248m-4.2-4.2l8.4 8.4m0-8.4l-8.4 8.4M817 252m-4.2-4.2l8.4 8.4m0-8.4l-8.4 8.4M823 250m-4.2-4.2l8.4 8.4m0-8.4l-8.4 8.4M830 250m-4.2-4.2l8.4 8.4m0-8.4l-8.4 8.4M852 267m-4.2-4.2l8.4 8.4m0-8.4l-8.4 8.4M810 287m-4.2-4.2l8.4 8.4m0-8.4l-8.4 8.4M818 283m-4.2-4.2l8.4 8.4m0-8.4l-8.4 8.4M837 287m-4.2-4.2l8.4 8.4m0-8.4l-8.4 8.4M844 295m-4.2-4.2l8.4 8.4m0-8.4l-8.4 8.4M893 272m-4.2-4.2l8.4 8.4m0-8.4l-8.4 8.4M899 256m-4.2-4.2l8.4 8.4m0-8.4l-8.4 8.4M891 296m-4.2-4.2l8.4 8.4m0-8.4l-8.4 8.4M901 297m-4.2-4.2l8.4 8.4m0-8.4l-8.4 8.4
M843 295m-4.2-4.2l8.4 8.4m0-8.4l-8.4 8.4M697 308m-4.2-4.2l8.4 8.4m0-8.4l-8.4 8.4M722 308m-4.2-4.2l8.4 8.4m0-8.4l-8.4 8.4M675 313m-4.2-4.2l8.4 8.4m0-8.4l-8.4 8.4M703 334m-4.2-4.2l8.4 8.4m0-8.4l-8.4 8.4M673 345m-4.2-4.2l8.4 8.4m0-8.4l-8.4 8.4M730 338m-4.2-4.2l8.4 8.4m0-8.4l-8.4 8.4M718 345m-4.2-4.2l8.4 8.4m0-8.4l-8.4 8.4M717 352m-4.2-4.2l8.4 8.4m0-8.4l-8.4 8.4M743 325m-4.2-4.2l8.4 8.4m0-8.4l-8.4 8.4M744 352m-4.2-4.2l8.4 8.4m0-8.4l-8.4 8.4M758 315m-4.2-4.2l8.4 8.4m0-8.4l-8.4 8.4M763 328m-4.2-4.2l8.4 8.4m0-8.4l-8.4 8.4M773 317m-4.2-4.2l8.4 8.4m0-8.4l-8.4 8.4M775 323m-4.2-4.2l8.4 8.4m0-8.4l-8.4 8.4M780 327m-4.2-4.2l8.4 8.4m0-8.4l-8.4 8.4M765 337m-4.2-4.2l8.4 8.4m0-8.4l-8.4 8.4M786 350m-4.2-4.2l8.4 8.4m0-8.4l-8.4 8.4M800 303m-4.2-4.2l8.4 8.4m0-8.4l-8.4 8.4M803 315m-4.2-4.2l8.4 8.4m0-8.4l-8.4 8.4M807 310m-4.2-4.2l8.4 8.4m0-8.4l-8.4 8.4M813 315m-4.2-4.2l8.4 8.4m0-8.4l-8.4 8.4M828 311m-4.2-4.2l8.4 8.4m0-8.4l-8.4 8.4M852 309m-4.2-4.2l8.4 8.4m0-8.4l-8.4 8.4M868 308m-4.2-4.2l8.4 8.4m0-8.4l-8.4 8.4M873 303m-4.2-4.2l8.4 8.4m0-8.4l-8.4 8.4M874 312m-4.2-4.2l8.4 8.4m0-8.4l-8.4 8.4M880 314m-4.2-4.2l8.4 8.4m0-8.4l-8.4 8.4M888 318m-4.2-4.2l8.4 8.4m0-8.4l-8.4 8.4M892 298m-4.2-4.2l8.4 8.4m0-8.4l-8.4 8.4M808 323m-4.2-4.2l8.4 8.4m0-8.4l-8.4 8.4M801 352m-4.2-4.2l8.4 8.4m0-8.4l-8.4 8.4M812 337m-4.2-4.2l8.4 8.4m0-8.4l-8.4 8.4M822 335m-4.2-4.2l8.4 8.4m0-8.4l-8.4 8.4M823 348m-4.2-4.2l8.4 8.4m0-8.4l-8.4 8.4M858 343m-4.2-4.2l8.4 8.4m0-8.4l-8.4 8.4M870 335m-4.2-4.2l8.4 8.4m0-8.4l-8.4 8.4M895 336m-4.2-4.2l8.4 8.4m0-8.4l-8.4 8.4M787 350m-4.2-4.2l8.4 8.4m0-8.4l-8.4 8.4M745 352m-4.2-4.2l8.4 8.4m0-8.4l-8.4 8.4M740 384m-4.2-4.2l8.4 8.4m0-8.4l-8.4 8.4M772 379m-4.2-4.2l8.4 8.4m0-8.4l-8.4 8.4M812 388m-4.2-4.2l8.4 8.4m0-8.4l-8.4 8.4M833 372m-4.2-4.2l8.4 8.4m0-8.4l-8.4 8.4M838 382m-4.2-4.2l8.4 8.4m0-8.4l-8.4 8.4M825 392m-4.2-4.2l8.4 8.4m0-8.4l-8.4 8.4M827 396m-4.2-4.2l8.4 8.4m0-8.4l-8.4 8.4M852 393m-4.2-4.2l8.4 8.4m0-8.4l-8.4 8.4M862 407m-4.2-4.2l8.4 8.4m0-8.4l-8.4 8.4M882 391m-4.2-4.2l8.4 8.4m0-8.4l-8.4 8.4M891 397m-4.2-4.2l8.4 8.4m0-8.4l-8.4 8.4M891 401m-4.2-4.2l8.4 8.4m0-8.4l-8.4 8.4M683 391m-4.2-4.2l8.4 8.4m0-8.4l-8.4 8.4M702 396m-4.2-4.2l8.4 8.4m0-8.4l-8.4 8.4M697 408m-4.2-4.2l8.4 8.4m0-8.4l-8.4 8.4M748 416m-4.2-4.2l8.4 8.4m0-8.4l-8.4 8.4M773 418m-4.2-4.2l8.4 8.4m0-8.4l-8.4 8.4M777 427m-4.2-4.2l8.4 8.4m0-8.4l-8.4 8.4M768 432m-4.2-4.2l8.4 8.4m0-8.4l-8.4 8.4M767 442m-4.2-4.2l8.4 8.4m0-8.4l-8.4 8.4M774 448m-4.2-4.2l8.4 8.4m0-8.4l-8.4 8.4M790 409m-4.2-4.2l8.4 8.4m0-8.4l-8.4 8.4M796 407m-4.2-4.2l8.4 8.4m0-8.4l-8.4 8.4M797 434m-4.2-4.2l8.4 8.4m0-8.4l-8.4 8.4M795 442m-4.2-4.2l8.4 8.4m0-8.4l-8.4 8.4M793 453m-4.2-4.2l8.4 8.4m0-8.4l-8.4 8.4M788 462m-4.2-4.2l8.4 8.4m0-8.4l-8.4 8.4M795 472m-4.2-4.2l8.4 8.4m0-8.4l-8.4 8.4M792 465m-4.2-4.2l8.4 8.4m0-8.4l-8.4 8.4M837 418m-4.2-4.2l8.4 8.4m0-8.4l-8.4 8.4M840 423m-4.2-4.2l8.4 8.4m0-8.4l-8.4 8.4M857 425m-4.2-4.2l8.4 8.4m0-8.4l-8.4 8.4M848 433m-4.2-4.2l8.4 8.4m0-8.4l-8.4 8.4M842 437m-4.2-4.2l8.4 8.4m0-8.4l-8.4 8.4M847 442m-4.2-4.2l8.4 8.4m0-8.4l-8.4 8.4M900 428m-4.2-4.2l8.4 8.4m0-8.4l-8.4 8.4M898 437m-4.2-4.2l8.4 8.4m0-8.4l-8.4 8.4M903 445m-4.2-4.2l8.4 8.4m0-8.4l-8.4 8.4M877 453m-4.2-4.2l8.4 8.4m0-8.4l-8.4 8.4M871 484m-4.2-4.2l8.4 8.4m0-8.4l-8.4 8.4M885 482m-4.2-4.2l8.4 8.4m0-8.4l-8.4 8.4M702 435m-4.2-4.2l8.4 8.4m0-8.4l-8.4 8.4M692 453m-4.2-4.2l8.4 8.4m0-8.4l-8.4 8.4M717 456m-4.2-4.2l8.4 8.4m0-8.4l-8.4 8.4M675 473m-4.2-4.2l8.4 8.4m0-8.4l-8.4 8.4M682 475m-4.2-4.2l8.4 8.4m0-8.4l-8.4 8.4M665 490m-4.2-4.2l8.4 8.4m0-8.4l-8.4 8.4M701 493m-4.2-4.2l8.4 8.4m0-8.4l-8.4 8.4M713 506m-4.2-4.2l8.4 8.4m0-8.4l-8.4 8.4M742 470m-4.2-4.2l8.4 8.4m0-8.4l-8.4 8.4M772 488m-4.2-4.2l8.4 8.4m0-8.4l-8.4 8.4M763 479m-4.2-4.2l8.4 8.4m0-8.4l-8.4 8.4M826 513m-4.2-4.2l8.4 8.4m0-8.4l-8.4 8.4M840 510m-4.2-4.2l8.4 8.4m0-8.4l-8.4 8.4M862 500m-4.2-4.2l8.4 8.4m0-8.4l-8.4 8.4M902 514m-4.2-4.2l8.4 8.4m0-8.4l-8.4 8.4M697 423m-4.2-4.2l8.4 8.4m0-8.4l-8.4 8.4M702 428m-4.2-4.2l8.4 8.4m0-8.4l-8.4 8.4M705 334m-4.2-4.2l8.4 8.4m0-8.4l-8.4 8.4M657 337m-4.2-4.2l8.4 8.4m0-8.4l-8.4 8.4"/>
</g>

<!-- axes frame -->
<rect x="57.3" y="32.3" width="886" height="505" fill="none" stroke="#000" stroke-width="1.1"/>

<!-- ticks -->
<g stroke="#000" stroke-width="1.1">
<line x1="52.4" y1="519.3" x2="57.3" y2="519.3"/>
<line x1="52.4" y1="441.8" x2="57.3" y2="441.8"/>
<line x1="52.4" y1="364.3" x2="57.3" y2="364.3"/>
<line x1="52.4" y1="286.8" x2="57.3" y2="286.8"/>
<line x1="52.4" y1="209.3" x2="57.3" y2="209.3"/>
<line x1="52.4" y1="131.8" x2="57.3" y2="131.8"/>
<line x1="52.4" y1="54.3" x2="57.3" y2="54.3"/>
<line x1="96.3" y1="537.3" x2="96.3" y2="542.2"/>
<line x1="257.5" y1="537.3" x2="257.5" y2="542.2"/>
<line x1="418.7" y1="537.3" x2="418.7" y2="542.2"/>
<line x1="579.9" y1="537.3" x2="579.9" y2="542.2"/>
<line x1="741.1" y1="537.3" x2="741.1" y2="542.2"/>
<line x1="902.3" y1="537.3" x2="902.3" y2="542.2"/>
</g>
<g font-size="13.9" text-anchor="end">
<text x="47.6" y="524.4">0</text>
<text x="47.6" y="446.9">10</text>
<text x="47.6" y="369.4">20</text>
<text x="47.6" y="291.9">30</text>
<text x="47.6" y="214.4">40</text>
<text x="47.6" y="136.9">50</text>
<text x="47.6" y="59.4">60</text>
</g>
<g font-size="13.9" text-anchor="middle">
<text x="96.3" y="557.7">2025-04-14 20:53:00</text>
<text x="257.5" y="557.7">2025-04-14 20:54:00</text>
<text x="418.7" y="557.7">2025-04-14 20:55:00</text>
<text x="579.9" y="557.7">2025-04-14 20:56:00</text>
<text x="741.1" y="557.7">2025-04-14 20:57:00</text>
<text x="902.3" y="557.7">2025-04-14 20:58:00</text>
<text x="500.3" y="575.5">Time (UTC)</text>
<text x="0" y="0" transform="translate(21,284.8) rotate(-90)">Bistatic Delay (km)</text>
</g>
<text x="500.8" y="24" font-size="16.7" text-anchor="middle">Detections in Delay</text>
</svg>
</body>
</html>
